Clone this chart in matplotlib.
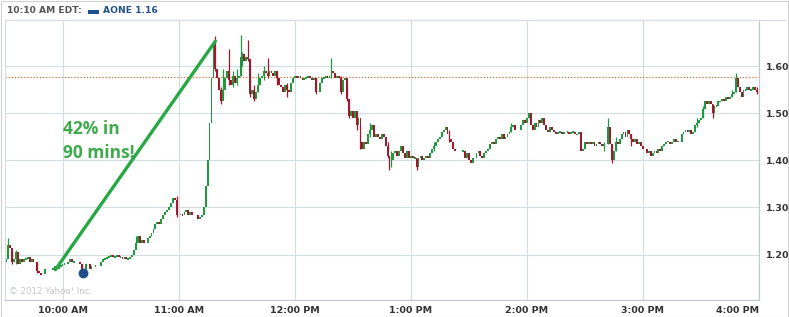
import matplotlib.pyplot as plt
from matplotlib.patches import Rectangle
from matplotlib.lines import Line2D

# one close per minute from 9:30 (minute 0) to 15:59 (minute 389); None = no trade
closes = [
    1.185, 1.19, 1.22, 1.215, 1.185, 1.19, 1.205, 1.18, 1.19, 1.185,
    1.19, 1.19, 1.195, 1.185, 1.19, 1.185, None, 1.165, 1.16, 1.158,
    None, 1.17, None, None, None, 1.17, 1.175, 1.17, 1.175, 1.175,
    1.18, 1.18, None, 1.185, 1.19, 1.185, 1.185, None, None, 1.18,
    1.165, 1.16, 1.18, None, 1.17, 1.175, None, 1.175, None, None,
    1.185, 1.19, 1.19, 1.195, 1.195, 1.20, 1.195, 1.195, 1.20, 1.195,
    1.195, 1.19, 1.195, 1.19, 1.19, 1.195, 1.20, 1.21, 1.225, 1.24,
    1.225, 1.23, 1.225, None, 1.235, 1.24, 1.245, 1.255, 1.265, 1.27,
    1.265, 1.275, 1.285, 1.29, 1.295, 1.30, 1.31, 1.32, 1.315, 1.285,
    None, 1.285, 1.283, 1.29, 1.295, 1.285, 1.29, 1.285, None, None,
    1.275, 1.28, 1.285, 1.30, 1.345, 1.40, 1.48, 1.575, 1.65, 1.595,
    1.575, 1.55, 1.525, 1.55, 1.575, 1.59, 1.57, 1.56, 1.58, 1.565,
    1.575, 1.58, 1.62, 1.625, 1.61, 1.62, 1.615, 1.54, 1.55, 1.53,
    1.545, 1.56, 1.575, 1.58, 1.59, 1.585, 1.58, 1.59, 1.585, 1.58,
    1.59, 1.575, 1.56, 1.555, 1.545, 1.56, 1.55, 1.545, 1.565, 1.575,
    1.58, 1.575, 1.58, 1.575, 1.57, 1.575, 1.575, 1.58, 1.575, 1.57,
    1.575, 1.545, None, 1.565, 1.575, 1.575, 1.58, 1.575, 1.58, 1.59,
    1.585, 1.575, 1.58, 1.575, 1.545, 1.57, 1.575, 1.53, 1.495, 1.505,
    1.49, 1.505, 1.475, 1.49, 1.44, 1.425, 1.44, 1.435, 1.455, 1.465,
    1.475, 1.45, 1.455, 1.45, 1.445, 1.455, 1.45, 1.43, 1.41, 1.385,
    1.40, 1.415, 1.42, 1.41, 1.42, 1.43, 1.415, 1.405, 1.42, 1.405,
    1.41, 1.405, 1.405, 1.385, 1.405, 1.41, 1.40, 1.405, 1.41, 1.405,
    1.415, 1.425, 1.43, 1.44, 1.445, 1.45, 1.46, 1.465, 1.47, 1.455,
    1.445, 1.44, 1.425, 1.42, None, None, None, 1.42, 1.405, 1.415,
    1.40, 1.395, 1.405, None, 1.415, 1.42, 1.41, 1.405, 1.415, 1.42,
    1.425, 1.435, 1.44, 1.435, 1.445, 1.45, 1.445, 1.455, 1.445, 1.45,
    1.455, 1.46, 1.47, 1.475, 1.465, None, None, 1.475, 1.485, 1.48,
    1.49, 1.50, 1.475, 1.465, 1.48, 1.47, 1.485, 1.48, 1.49, 1.475,
    1.465, 1.46, 1.47, 1.465, 1.46, 1.455, 1.46, 1.46, 1.455, 1.46,
    None, 1.46, 1.455, 1.46, 1.46, 1.455, 1.455, 1.46, 1.42, 1.425,
    1.44, 1.435, 1.44, 1.435, 1.44, 1.43, 1.435, 1.44, 1.435, 1.43,
    1.435, None, 1.47, 1.435, 1.40, 1.42, 1.44, 1.435, 1.445, 1.455,
    1.46, 1.45, 1.465, 1.455, 1.445, 1.44, 1.445, 1.435, 1.44, 1.43,
    1.425, None, 1.415, 1.42, 1.41, 1.415, 1.42, 1.415, 1.425, 1.42,
    1.43, 1.435, 1.44, 1.44, 1.435, 1.44, 1.445, 1.44, 1.44, None,
    1.455, 1.46, 1.465, 1.46, 1.465, 1.455, 1.46, 1.475, 1.48, 1.485,
    1.49, 1.51, 1.525, 1.52, 1.525, 1.52, 1.50, 1.515, 1.515, 1.525,
    1.525, 1.53, 1.525, 1.535, 1.53, 1.535, 1.54, 1.545, 1.575, 1.555,
    1.545, 1.535, 1.55, 1.55, 1.555, 1.55, 1.55, 1.555, 1.55, 1.545,
]

# high/low spikes (minute, low, high)
wick_min = [2, 4, 6, 17, 40, 42, 68, 89, 109, 112, 113, 116, 118, 120, 122, 123,
            126, 127, 129, 131, 134, 136, 141, 146, 161, 169, 174, 177, 178, 182,
            184, 189, 198, 199, 200, 213, 222, 230, 262, 271, 310, 312, 314, 316,
            324, 358, 361, 366, 376, 378, 389]
wick_lo = [1.21, 1.18, 1.18, 1.16, 1.16, 1.16, 1.215, 1.28, 1.59, 1.52, 1.53, 1.56,
           1.555, 1.56, 1.58, 1.60, 1.61, 1.535, 1.525, 1.545, 1.57, 1.575, 1.56,
           1.535, 1.54, 1.575, 1.54, 1.525, 1.49, 1.465, 1.425, 1.45, 1.405, 1.38,
           1.385, 1.38, 1.42, 1.44, 1.46, 1.49, 1.42, 1.435, 1.395, 1.42, 1.43,
           1.47, 1.49, 1.49, 1.535, 1.545, 1.54]
wick_hi = [1.235, 1.21, 1.21, 1.18, 1.18, 1.18, 1.24, 1.325, 1.665, 1.555, 1.595,
           1.636, 1.59, 1.595, 1.666, 1.63, 1.655, 1.60, 1.56, 1.585, 1.60, 1.617,
           1.59, 1.565, 1.575, 1.617, 1.58, 1.56, 1.53, 1.50, 1.475, 1.48, 1.44,
           1.41, 1.42, 1.405, 1.44, 1.465, 1.48, 1.50, 1.44, 1.49, 1.435, 1.45,
           1.455, 1.49, 1.515, 1.52, 1.55, 1.585, 1.555]

prev_close = 1.578
dot_min, dot_price = 40.6, 1.16
arrow_t = [26.3, 109]
arrow_p = [1.168, 1.653]

hour_ticks = [30, 90, 150, 210, 270, 330, 390]
hour_labels = ["10:00 AM", "11:00 AM", "12:00 PM", "1:00 PM", "2:00 PM", "3:00 PM", "4:00 PM"]
price_ticks = [1.20, 1.30, 1.40, 1.50, 1.60]

GREEN = "#1b9a3e"
RED = "#a3172c"

fig = plt.figure(figsize=(7.89, 3.17), dpi=100)
W, H = 789, 317
ax = fig.add_axes([4.5 / W, 17 / H, (759 - 4.5) / W, (300 - 20) / H])

t, bot, hgt, cols = [], [], [], []
bar_col = {}
last = None
for i, c in enumerate(closes):
    if c is None:
        continue
    o = last if last is not None else c
    lo, hi = min(o, c), max(o, c)
    if hi - lo < 0.004:
        lo, hi = (lo + hi) / 2 - 0.002, (lo + hi) / 2 + 0.002
    t.append(i)
    bot.append(lo)
    hgt.append(hi - lo)
    cols.append(GREEN if c >= o else RED)
    bar_col[i] = cols[-1]
    last = c

ax.bar(t, hgt, bottom=bot, width=0.95, color=cols, linewidth=0, zorder=3)
wcols = [bar_col.get(m, GREEN) for m in wick_min]
ax.vlines(wick_min, wick_lo, wick_hi, colors=wcols, linewidth=0.9, zorder=3)

ax.axhline(prev_close, color="#e0703a", linestyle=(0, (1, 1.5)), linewidth=0.9, zorder=2)
ax.plot(arrow_t, arrow_p, color="#27a844", linewidth=2.4, solid_capstyle="round", zorder=4)
ax.plot([dot_min], [dot_price], "o", color="#1f4e8c", markersize=6, zorder=5)

ax.text(30.2, 1.485, "42% in", color="#3dab4b", fontsize=12.5, fontweight="bold",
        family="Open Sans", va="top", ha="left")
ax.text(30.2, 1.434, "90 mins!", color="#3dab4b", fontsize=12.5, fontweight="bold",
        family="Open Sans", va="top", ha="left")
ax.text(2.2, 1.113, "\u00a9 2012 Yahoo! Inc.", color="#c4c4c4", fontsize=6.2, va="bottom")

ax.set_xlim(0, 390)
ax.set_ylim(1.1036, 1.698)
ax.set_xticks(hour_ticks)
ax.set_xticklabels(hour_labels)
ax.set_yticks(price_ticks)
ax.set_yticklabels(["%.2f" % p for p in price_ticks])
ax.yaxis.tick_right()
ax.tick_params(axis="both", length=0, labelsize=6.8, labelcolor="#333333")
ax.tick_params(axis="x", pad=4)
ax.tick_params(axis="y", pad=5)
for lab in ax.get_xticklabels() + ax.get_yticklabels():
    lab.set_fontweight("bold")
ax.get_xticklabels()[-1].set_ha("right")
ax.grid(True, color="#d3dbe3", linewidth=0.8, zorder=0)
ax.set_axisbelow(True)
for s in ["left", "top"]:
    ax.spines[s].set_color("#d3dbe3")
    ax.spines[s].set_linewidth(0.8)
for s in ["right", "bottom"]:
    ax.spines[s].set_color("#c0c8d0")
    ax.spines[s].set_linewidth(0.9)

# header strip
fig.add_artist(Rectangle((0.5 / W, 0.5 / H), 1 - 1.5 / W, 1 - 1.5 / H, transform=fig.transFigure,
                         fill=False, edgecolor="#d0d0d0", linewidth=0.8))
fig.add_artist(Line2D([4.5 / W, 1 - 4 / W], [1 - 19.5 / H] * 2, transform=fig.transFigure,
                      color="#d3dbe3", linewidth=0.8))
fig.text(7 / W, 1 - 10.5 / H, "10:10 AM EDT:", color="#555555", fontsize=6.6, fontweight="bold", va="center")
fig.add_artist(Rectangle((88 / W, 1 - 14 / H), 11 / W, 4 / H, transform=fig.transFigure,
                         facecolor="#1f4e8c", edgecolor="none"))
fig.text(103 / W, 1 - 10.5 / H, "AONE 1.16", color="#24508a", fontsize=6.6, fontweight="bold", va="center")

fig.savefig("out.png", dpi=100)
